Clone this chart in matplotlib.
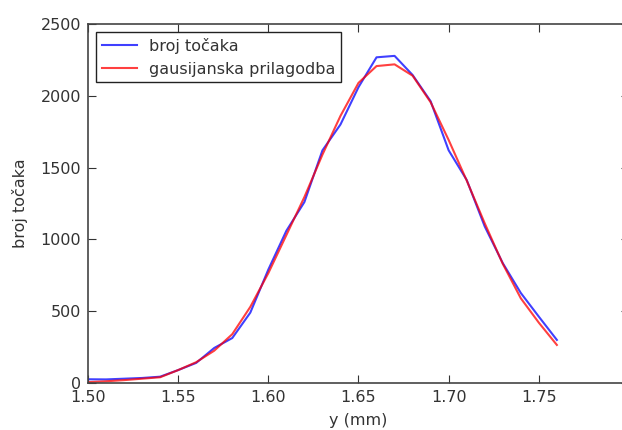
import numpy as np
import matplotlib.pyplot as plt

# measured positions (mm) and counts
y_mm = np.round(np.arange(1.50, 1.765, 0.01), 2)
broj = [26, 25, 30, 35, 44, 90, 140, 244, 313, 490, 790, 1060, 1260, 1620, 1800, 2060,
        2268, 2278, 2145, 1962, 1620, 1414, 1090, 835, 627, 462, 300]
fit = [6, 12, 20, 30, 40, 90, 145, 225, 340, 530, 765, 1030, 1295, 1590, 1860, 2090,
       2207, 2219, 2140, 1955, 1692, 1410, 1112, 830, 590, 420, 265]

plt.rcParams["font.size"] = 11.5

fig = plt.figure(figsize=(6.22, 4.30), dpi=100)
ax = fig.add_axes([88/622, 47/430, 541/622, 359/430])

ax.plot(y_mm, broj, color="#0000ff", lw=1.5, alpha=0.75, label="broj točaka")
ax.plot(y_mm, fit, color="#ff0000", lw=1.5, alpha=0.75, label="gausijanska prilagodba")

ax.set_xlim(1.50, 1.80)
ax.set_ylim(0, 2500)
ax.set_xticks([1.50, 1.55, 1.60, 1.65, 1.70, 1.75])
ax.set_xticklabels(["1.50", "1.55", "1.60", "1.65", "1.70", "1.75"])
ax.set_yticks([0, 500, 1000, 1500, 2000, 2500])
ax.tick_params(direction="in", top=True, right=True, length=6, pad=5, colors="#333333")
for s in ax.spines.values():
    s.set_color("#444444")
    s.set_linewidth(1.2)

ax.set_xlabel("y (mm)", color="#333333", labelpad=6)
ax.set_ylabel("broj točaka", color="#333333", labelpad=9)

leg = ax.legend(loc="upper left", fancybox=False, framealpha=1, edgecolor="#222222",
                handlelength=2.2, borderaxespad=0.5, borderpad=0.35)
for t in leg.get_texts():
    t.set_color("#333333")

fig.savefig("out.png", dpi=100)
